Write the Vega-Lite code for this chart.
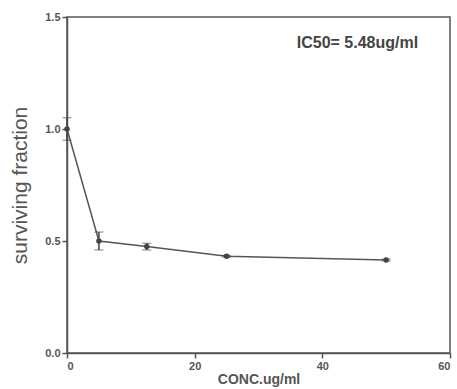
{
  "$schema": "https://vega.github.io/schema/vega-lite/v6.json",
  "width": 383,
  "height": 336,
  "autosize": {"type": "none"},
  "padding": {"left": 67, "top": 17, "right": 7, "bottom": 36},
  "background": "white",
  "config": {
    "view": {"stroke": "#555", "strokeWidth": 1.5},
    "font": "Liberation Sans",
    "axis": {
      "grid": false,
      "domainColor": "#555",
      "domainWidth": 1.5,
      "tickColor": "#555",
      "tickWidth": 1.5,
      "tickSize": 5,
      "labelColor": "#555",
      "labelFont": "Liberation Sans",
      "labelFontWeight": "bold",
      "labelFontSize": 11,
      "titleColor": "#555",
      "titleFont": "Liberation Sans",
      "titleFontWeight": "normal"
    }
  },
  "datasets": {
    "pts": [
      {"conc": 0, "frac": 1.0, "lo": 0.95, "hi": 1.05},
      {"conc": 5, "frac": 0.5, "lo": 0.46, "hi": 0.54},
      {"conc": 12.5, "frac": 0.475, "lo": 0.46, "hi": 0.49},
      {"conc": 25, "frac": 0.432, "lo": 0.428, "hi": 0.436},
      {"conc": 50, "frac": 0.415, "lo": 0.411, "hi": 0.419}
    ],
    "note": [{"conc": 45.5, "frac": 1.384, "label": "IC50= 5.48ug/ml"}]
  },
  "layer": [
    {
      "data": {"name": "pts"},
      "mark": {"type": "line", "color": "#555", "strokeWidth": 1.5},
      "encoding": {
        "x": {"field": "conc", "type": "quantitative", "scale": {"domain": [0, 60], "nice": false},
              "axis": {"values": [0, 20, 40, 60], "title": "CONC.ug/ml", "titleFontSize": 14, "titleFontWeight": "bold", "titlePadding": 1, "labelPadding": 2}},
        "y": {"field": "frac", "type": "quantitative", "scale": {"domain": [0, 1.5], "nice": false},
              "axis": {"values": [0, 0.5, 1.0, 1.5], "format": ".1f", "title": "surviving fraction", "titleFontSize": 21, "titlePadding": 14, "labelPadding": 2}}
      }
    },
    {
      "data": {"name": "pts"},
      "mark": {"type": "errorbar", "ticks": {"color": "#444", "size": 9, "strokeWidth": 1.5}, "rule": {"color": "#444", "strokeWidth": 1.5}},
      "encoding": {
        "x": {"field": "conc", "type": "quantitative", "title": "CONC.ug/ml"},
        "y": {"field": "lo", "type": "quantitative", "title": "surviving fraction"},
        "y2": {"field": "hi"}
      }
    },
    {
      "data": {"name": "pts"},
      "mark": {"type": "point", "filled": true, "color": "#444", "size": 30, "opacity": 1},
      "encoding": {
        "x": {"field": "conc", "type": "quantitative", "title": "CONC.ug/ml"},
        "y": {"field": "frac", "type": "quantitative", "title": "surviving fraction"}
      }
    },
    {
      "data": {"name": "note"},
      "mark": {"type": "text", "color": "#444", "fontSize": 16, "fontWeight": "bold", "font": "Liberation Sans"},
      "encoding": {
        "x": {"field": "conc", "type": "quantitative", "title": "CONC.ug/ml"},
        "y": {"field": "frac", "type": "quantitative", "title": "surviving fraction"},
        "text": {"field": "label"}
      }
    }
  ]
}
